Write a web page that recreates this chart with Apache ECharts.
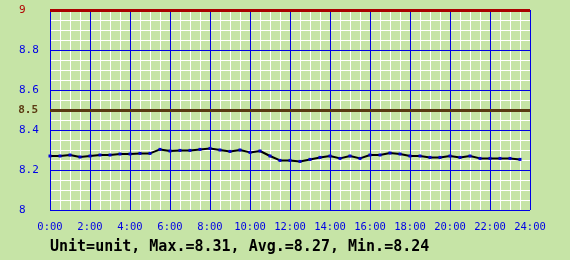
<!DOCTYPE html>
<html>
<head>
<meta charset="utf-8">
<script src="https://cdn.jsdelivr.net/npm/echarts@6/dist/echarts.min.js"></script>
<style>
html,body{margin:0;padding:0;background:#c6e4a6;}
#c{width:570px;height:260px;}
</style>
</head>
<body>
<div id="c"></div>
<script>
const times = [0,0.5,1,1.5,2,2.5,3,3.5,4,4.5,5,5.5,6,6.5,7,7.5,8,8.5,9,9.5,10,10.5,11,11.5,
  12,12.5,13,13.5,14,14.5,15,15.5,16,16.5,17,17.5,18,18.5,19,19.5,20,20.5,21,21.5,22,22.5,23,23.5];
const values = [8.27,8.27,8.275,8.265,8.27,8.275,8.275,8.28,8.28,8.283,8.283,8.303,8.295,8.298,8.298,8.303,
  8.308,8.30,8.293,8.30,8.288,8.295,8.27,8.248,8.248,8.243,8.253,8.263,8.27,8.258,8.27,8.258,
  8.275,8.275,8.285,8.28,8.27,8.27,8.263,8.263,8.27,8.263,8.27,8.258,8.258,8.258,8.258,8.253];
const xTickLabels = ['0:00','2:00','4:00','6:00','8:00','10:00','12:00','14:00','16:00','18:00','20:00','22:00','24:00'];
const upperLimit = 9;
const lowerLimit = 8.5;
const summary = 'Unit=unit, Max.=8.31, Avg.=8.27, Min.=8.24';

const BLUE = '#0000e6';
const FONT = 'DejaVu Sans Mono';
const chart = echarts.init(document.getElementById('c'));
chart.setOption({
  backgroundColor: '#c6e4a6',
  animation: false,
  grid: {left: 50, top: 10, width: 480, height: 200},
  title: {
    text: summary, left: 50, top: 240, padding: 0,
    textStyle: {fontFamily: FONT, fontSize: 15, fontWeight: 'bold', color: '#000'}
  },
  xAxis: [
    {type: 'value', min: 0, max: 24, interval: 0.5, z: 0,
     axisLine: {show: false}, axisTick: {show: false}, axisLabel: {show: false},
     splitLine: {show: true, lineStyle: {color: '#ffffff', width: 1}}},
    {type: 'value', min: 0, max: 24, interval: 2, z: 1, position: 'bottom',
     axisLine: {show: false}, axisTick: {show: false},
     axisLabel: {margin: 12, color: BLUE, fontFamily: FONT, fontSize: 10.5,
       formatter: v => xTickLabels[Math.round(v / 2)]},
     splitLine: {show: true, lineStyle: {color: BLUE, width: 1}}}
  ],
  yAxis: [
    {type: 'value', min: 8, max: 9, interval: 0.05, z: 0,
     axisLine: {show: false}, axisTick: {show: false}, axisLabel: {show: false},
     splitLine: {show: true, lineStyle: {color: '#ffffff', width: 1}}},
    {type: 'value', min: 8, max: 9, interval: 0.2, z: 1, position: 'left',
     axisLine: {show: false}, axisTick: {show: false},
     axisLabel: {margin: 31, align: 'left', fontFamily: FONT, fontSize: 11,
       color: v => (Number(v) === upperLimit ? '#b00000' : BLUE)},
     splitLine: {show: true, lineStyle: {color: BLUE, width: 1}}}
  ],
  series: [{
    type: 'line',
    xAxisIndex: 1, yAxisIndex: 1,
    data: times.map((t, i) => [t, values[i]]),
    smooth: false,
    lineStyle: {color: '#000', width: 2},
    symbol: 'rect', symbolSize: 3, showSymbol: true,
    itemStyle: {color: '#0000dd', borderWidth: 0},
    z: 5,
    markLine: {
      silent: true, symbol: 'none',
      data: [
        {yAxis: upperLimit, lineStyle: {color: '#aa0000', width: 3, type: 'solid'},
         label: {show: false}},
        {yAxis: lowerLimit, lineStyle: {color: '#5a3a12', width: 3, type: 'solid'},
         label: {show: true, position: 'start', distance: 12, formatter: String(lowerLimit),
           color: '#5a3a12', fontFamily: FONT, fontSize: 11, fontWeight: 'bold'}}
      ]
    }
  }]
});
</script>
</body>
</html>
